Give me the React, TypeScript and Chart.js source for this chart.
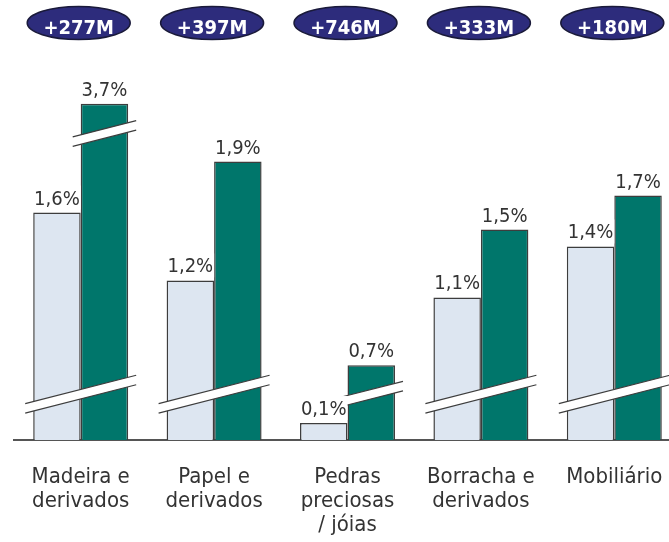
import React, { useEffect, useRef } from 'react';
import { Chart, registerables, LinearScale } from 'chart.js';

// ---- data ----
const CATEGORIES: string[][] = [
  ['Madeira e', 'derivados'],
  ['Papel e', 'derivados'],
  ['Pedras', 'preciosas', '/ jóias'],
  ['Borracha e', 'derivados'],
  ['Mobiliário'],
];
const SHARE_BEFORE = [1.6, 1.2, 0.1, 1.1, 1.4];
const SHARE_AFTER = [3.7, 1.9, 0.7, 1.5, 1.7];
const GROWTH_LABELS = ['+277M', '+397M', '+746M', '+333M', '+180M'];

// ---- broken value axis configuration ----
const AXIS_LOW_CUT = 0.2;
const AXIS_LOW_RESUME = 0.46;
const AXIS_HIGH_CUT = 2.0;
const AXIS_HIGH_COMPRESSION = 0.142;
const AXIS_MAX = 8;
const BREAK_MARK_VALUES = [0.53, 2.46];

const FONT = "'DejaVu Sans Condensed', 'DejaVu Sans', sans-serif";
const TEXT_COLOR = '#333333';
const EDGE_COLOR = '#3d3d3d';

function warp(v: number): number {
  if (v <= AXIS_LOW_CUT) return v;
  if (v <= AXIS_LOW_RESUME) return AXIS_LOW_CUT;
  if (v <= AXIS_HIGH_CUT) return AXIS_LOW_CUT + (v - AXIS_LOW_RESUME);
  return AXIS_LOW_CUT + (AXIS_HIGH_CUT - AXIS_LOW_RESUME) + (v - AXIS_HIGH_CUT) * AXIS_HIGH_COMPRESSION;
}
function unwarp(t: number): number {
  if (t <= AXIS_LOW_CUT) return t;
  const mid = AXIS_LOW_CUT + (AXIS_HIGH_CUT - AXIS_LOW_RESUME);
  if (t <= mid) return AXIS_LOW_RESUME + (t - AXIS_LOW_CUT);
  return AXIS_HIGH_CUT + (t - mid) / AXIS_HIGH_COMPRESSION;
}

class BrokenLinearScale extends LinearScale {
  static id = 'brokenLinear';
  static defaults = LinearScale.defaults;
  getPixelForValue(value: number) {
    const a = warp(this.min);
    const b = warp(this.max);
    return this.getPixelForDecimal((warp(value) - a) / (b - a));
  }
  getValueForPixel(pixel: number) {
    const a = warp(this.min);
    const b = warp(this.max);
    return unwarp(a + this.getDecimalForPixel(pixel) * (b - a));
  }
}

Chart.register(...registerables, BrokenLinearScale as any);

const fmt = (v: number) => v.toFixed(1).replace('.', ',') + '%';

const decorPlugin = {
  id: 'decor',
  afterDatasetsDraw(chart: any) {
    const ctx = chart.ctx as CanvasRenderingContext2D;
    const yScale = chart.scales.y;
    const metas = [chart.getDatasetMeta(0), chart.getDatasetMeta(1)];
    const values = [SHARE_BEFORE, SHARE_AFTER];
    const slope = 0.255;
    const half = 4.75;

    ctx.save();
    // break marks
    for (let i = 0; i < CATEGORIES.length; i++) {
      for (const mark of BREAK_MARK_VALUES) {
        const bars = metas
          .map((m, d) => ({ el: m.data[i].getProps(['x', 'width'], true), v: values[d][i] }))
          .filter((b) => b.v > mark);
        if (!bars.length) continue;
        const left = Math.min(...bars.map((b) => b.el.x - b.el.width / 2)) - 8;
        const right = Math.max(...bars.map((b) => b.el.x + b.el.width / 2)) + 8;
        const cx = (left + right) / 2;
        const cy = yScale.getPixelForValue(mark);
        const up = (x: number) => cy - half - slope * (x - cx);
        const lo = (x: number) => cy + half - slope * (x - cx);
        ctx.fillStyle = '#ffffff';
        ctx.beginPath();
        ctx.moveTo(left, up(left));
        ctx.lineTo(right, up(right));
        ctx.lineTo(right, lo(right));
        ctx.lineTo(left, lo(left));
        ctx.closePath();
        ctx.fill();
        ctx.strokeStyle = EDGE_COLOR;
        ctx.lineWidth = 1.2;
        ctx.beginPath();
        ctx.moveTo(left, up(left));
        ctx.lineTo(right, up(right));
        ctx.moveTo(left, lo(left));
        ctx.lineTo(right, lo(right));
        ctx.stroke();
      }
    }

    // value labels
    ctx.font = `20px ${FONT}`;
    ctx.textAlign = 'center';
    ctx.textBaseline = 'alphabetic';
    for (let d = 0; d < 2; d++) {
      for (let i = 0; i < CATEGORIES.length; i++) {
        const el = metas[d].data[i].getProps(['x', 'y', 'width'], true);
        const text = fmt(values[d][i]);
        const w = ctx.measureText(text).width;
        const base = el.y - 8;
        let bx0 = Math.max(el.x - w / 2 - 3, el.x - el.width / 2);
        let bx1 = Math.min(el.x + w / 2 + 3, el.x + el.width / 2);
        ctx.fillStyle = '#ffffff';
        ctx.fillRect(bx0, base - 19, bx1 - bx0, 24);
        ctx.fillStyle = TEXT_COLOR;
        ctx.fillText(text, el.x, base);
      }
    }
    ctx.restore();
  },
  afterDraw(chart: any) {
    const ctx = chart.ctx as CanvasRenderingContext2D;
    const xScale = chart.scales.x;
    ctx.save();
    for (let i = 0; i < GROWTH_LABELS.length; i++) {
      const cx = xScale.getPixelForTick(i) - 2;
      const cy = 23;
      ctx.beginPath();
      ctx.ellipse(cx, cy, 51.5, 16.5, 0, 0, Math.PI * 2);
      ctx.fillStyle = '#2d2c7c';
      ctx.fill();
      ctx.lineWidth = 1.5;
      ctx.strokeStyle = '#1a1a3a';
      ctx.stroke();
      ctx.fillStyle = '#ffffff';
      ctx.font = `bold 20px ${FONT}`;
      ctx.textAlign = 'center';
      ctx.textBaseline = 'alphabetic';
      ctx.fillText(GROWTH_LABELS[i], cx, 33.5);
    }
    ctx.restore();
  },
};

export default function App() {
  const ref = useRef<HTMLCanvasElement | null>(null);
  useEffect(() => {
    if (!ref.current) return;
    const chart = new Chart(ref.current, {
      type: 'bar',
      data: {
        labels: CATEGORIES,
        datasets: [
          {
            label: 'Antes',
            data: SHARE_BEFORE,
            backgroundColor: '#dde6f1',
            borderColor: EDGE_COLOR,
            borderWidth: 1.5,
            categoryPercentage: 0.712,
            barPercentage: 1,
          },
          {
            label: 'Depois',
            data: SHARE_AFTER,
            backgroundColor: '#00766b',
            borderColor: EDGE_COLOR,
            borderWidth: 1.5,
            categoryPercentage: 0.712,
            barPercentage: 1,
          },
        ],
      },
      options: {
        animation: false,
        responsive: false,
        devicePixelRatio: 1,
        layout: { padding: { left: 14, right: 9, top: 0, bottom: 0 } },
        plugins: { legend: { display: false }, tooltip: { enabled: false } },
        scales: {
          x: {
            type: 'category',
            offset: true,
            grid: { display: false, drawTicks: false },
            border: { display: true, color: '#555555', width: 2 },
            ticks: {
              font: { family: FONT, size: 22, lineHeight: 1.07 },
              color: TEXT_COLOR,
              padding: 26,
              maxRotation: 0,
              autoSkip: false,
            },
            afterFit: (s: any) => {
              s.height = 102;
            },
          },
          y: {
            type: 'brokenLinear' as any,
            min: 0,
            max: AXIS_MAX,
            display: false,
          },
        },
      },
      plugins: [decorPlugin],
    } as any);
    return () => chart.destroy();
  }, []);
  return (
    <div
      style={{
        position: 'fixed',
        left: 0,
        top: 0,
        width: 669,
        height: 542,
        overflow: 'hidden',
        background: '#ffffff',
      }}
    >
      <canvas ref={ref} width={690} height={542} style={{ display: 'block', width: 690, height: 542 }} />
    </div>
  );
}
